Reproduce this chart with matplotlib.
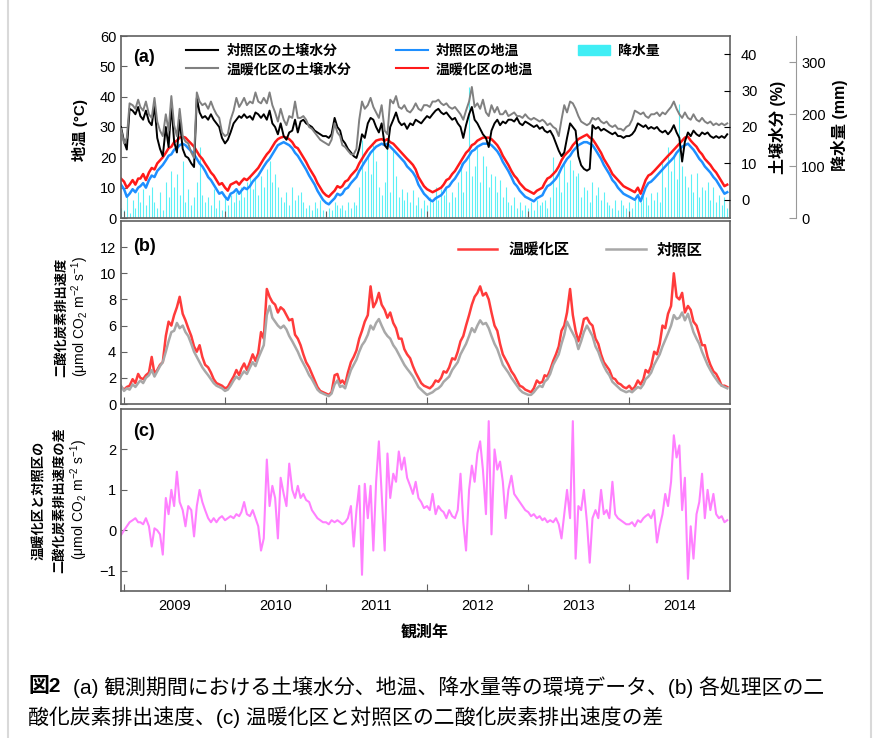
import datetime as dt
import matplotlib
matplotlib.use('Agg')
import matplotlib.pyplot as plt
import matplotlib.dates as mdates
from matplotlib.lines import Line2D
from matplotlib.patches import Patch

plt.rcParams['font.family'] = ['Liberation Sans', 'Noto Sans CJK JP', 'DejaVu Sans']
plt.rcParams['mathtext.fontset'] = 'custom'
plt.rcParams['mathtext.rm'] = 'Liberation Sans'
plt.rcParams['mathtext.default'] = 'regular'

# 観測日 (10日ごと)
dates = [dt.date(2008, 12, 21)] + [dt.date(y, m, d) for y in range(2009, 2015)
                                   for m in range(1, 13) for d in (1, 11, 21)]

# (a) 地温 (°C)
soil_temp_ctrl = [
    11.0,
    9.5, 7.0, 8.0, 9.5, 8.5, 10.0, 10.5, 11.5, 10.0, 12.5, 14.0, 13.5, 15.5, 16.5, 17.5, 19.0, 20.5, 21.0,
    22.5, 23.0, 24.0, 24.5, 24.0, 23.0, 22.0, 21.0, 19.5, 18.0, 17.0, 15.5, 13.5, 12.5, 11.0, 9.5, 8.0, 8.5,
    7.0, 6.0, 8.0, 8.5, 9.5, 8.0, 9.0, 10.0, 9.5, 10.5, 12.0, 13.0, 14.0, 15.5, 17.0, 18.5, 19.5, 21.0,
    22.5, 24.0, 24.5, 25.0, 24.5, 24.0, 23.0, 21.5, 20.5, 19.0, 17.5, 16.0, 14.0, 12.5, 11.0, 9.0, 7.5, 6.0,
    5.0, 4.5, 5.5, 6.5, 8.0, 7.5, 8.0, 9.5, 10.0, 11.5, 12.5, 13.5, 15.5, 17.0, 18.5, 20.0, 21.5, 22.5,
    23.5, 24.0, 24.5, 24.0, 24.5, 23.5, 22.5, 21.5, 20.5, 19.5, 18.5, 17.0, 16.0, 15.0, 13.5, 11.0, 9.5, 8.0,
    7.0, 6.0, 5.5, 6.5, 7.0, 7.5, 8.5, 10.0, 10.5, 12.0, 13.0, 14.5, 16.0, 18.0, 19.0, 20.5, 22.0, 22.5,
    23.5, 24.0, 24.5, 24.5, 24.5, 24.0, 23.0, 22.0, 20.5, 18.5, 17.0, 15.5, 13.5, 11.5, 10.5, 9.0, 8.0, 7.0,
    6.5, 6.0, 5.5, 6.5, 7.0, 7.5, 9.0, 10.5, 11.0, 12.0, 13.0, 14.5, 16.5, 18.0, 19.5, 20.5, 22.0, 23.0,
    24.0, 24.5, 25.0, 25.0, 24.5, 24.0, 22.5, 21.0, 19.5, 17.5, 16.0, 14.5, 12.5, 11.5, 10.0, 9.0, 8.0, 7.5,
    7.0, 6.5, 6.0, 7.5, 5.5, 8.0, 10.0, 11.5, 12.0, 13.0, 14.0, 15.0, 16.0, 17.0, 18.0, 19.0, 20.0, 21.5,
    22.5, 23.5, 24.0, 24.5, 23.5, 22.5, 21.0, 19.5, 18.5, 17.0, 16.0, 15.0, 13.5, 12.5, 11.0, 9.5, 8.0, 8.5,
]
soil_temp_warm = [
    13.0,
    12.0, 10.0, 11.0, 12.5, 11.0, 13.0, 13.0, 14.5, 12.5, 15.0, 16.5, 16.0, 18.0, 19.0, 20.0, 21.5, 23.0, 23.5,
    25.0, 25.5, 26.5, 26.8, 26.5, 25.5, 24.5, 23.5, 22.0, 20.5, 19.5, 18.0, 16.5, 15.0, 14.0, 12.5, 11.0, 11.5,
    10.0, 9.0, 11.0, 11.5, 12.0, 11.0, 12.0, 13.0, 12.5, 13.5, 14.5, 15.5, 16.5, 18.0, 19.5, 21.0, 22.0, 23.5,
    25.0, 26.0, 26.5, 26.8, 26.5, 26.0, 25.0, 23.5, 23.0, 21.5, 20.0, 18.5, 16.5, 15.0, 13.5, 11.5, 10.0, 8.5,
    7.5, 7.0, 8.0, 9.0, 10.5, 10.0, 10.5, 12.0, 12.5, 14.0, 15.0, 16.0, 18.0, 19.5, 21.0, 22.5, 23.5, 24.5,
    25.5, 25.8, 26.0, 25.5, 26.0, 25.0, 24.5, 23.5, 22.5, 21.5, 20.5, 19.5, 18.5, 17.5, 16.0, 13.5, 12.0, 10.5,
    9.5, 9.0, 8.5, 9.0, 9.5, 10.0, 11.0, 12.5, 13.0, 14.5, 15.5, 17.0, 18.5, 20.0, 21.5, 22.5, 24.0, 24.5,
    25.5, 26.0, 26.5, 26.5, 26.5, 26.0, 25.0, 24.0, 22.5, 20.5, 19.0, 17.5, 15.5, 14.0, 13.0, 11.5, 10.5, 9.5,
    9.0, 8.5, 8.0, 9.0, 9.5, 10.0, 11.5, 13.0, 13.5, 14.5, 15.5, 17.0, 19.0, 20.5, 21.5, 22.5, 24.0, 25.0,
    26.0, 26.5, 27.0, 27.5, 26.5, 26.0, 24.5, 23.0, 21.5, 19.5, 18.0, 16.5, 14.5, 13.5, 12.5, 11.5, 10.5, 10.0,
    9.5, 9.0, 8.5, 10.0, 8.0, 10.5, 12.5, 14.0, 14.5, 15.5, 16.5, 17.5, 18.5, 19.5, 20.5, 21.5, 22.5, 23.5,
    24.5, 25.5, 26.5, 26.8, 25.5, 24.5, 23.5, 22.0, 21.0, 19.5, 18.5, 17.5, 16.0, 15.0, 13.5, 12.0, 10.5, 11.0,
]

# (a) 土壌水分 (%)
soil_moist_ctrl = [
    20.0,
    16.0, 13.8, 25.0, 24.5, 23.5, 25.5, 23.0, 22.0, 24.5, 21.5, 20.5, 26.0, 17.0, 14.0, 12.0, 20.0, 14.5, 26.0,
    16.0, 13.0, 22.0, 14.0, 12.0, 11.5, 10.0, 9.0, 28.0, 24.0, 22.5, 23.0, 22.0, 23.5, 22.0, 21.0, 20.0, 17.0,
    15.5, 16.5, 18.5, 21.0, 22.0, 23.0, 22.5, 23.5, 22.5, 23.0, 22.0, 24.0, 23.5, 22.5, 23.5, 22.0, 24.5, 21.0,
    20.0, 18.0, 21.0, 17.5, 16.5, 18.5, 19.0, 22.0, 18.5, 21.5, 22.0, 21.0, 20.5, 20.0, 19.0, 18.5, 18.0, 17.5,
    17.5, 17.0, 18.0, 22.5, 20.0, 19.0, 16.5, 15.5, 14.0, 13.0, 12.0, 11.5, 14.0, 18.0, 17.0, 21.0, 22.5, 22.0,
    20.0, 18.5, 21.0, 15.0, 14.0, 20.0, 22.0, 24.0, 21.5, 20.5, 21.0, 19.5, 21.0, 20.5, 22.0, 21.5, 21.0, 22.0,
    23.0, 22.5, 23.5, 24.5, 25.0, 24.0, 23.5, 24.0, 23.0, 22.0, 22.5, 21.0, 20.0, 17.0, 20.5, 23.5, 25.5, 22.0,
    21.0, 19.5, 18.0, 17.0, 14.5, 19.0, 21.0, 22.0, 20.5, 21.5, 21.0, 22.0, 22.0, 21.5, 22.5, 21.0, 20.5, 21.5,
    21.0, 20.5, 20.0, 20.5, 19.5, 20.0, 19.0, 18.5, 19.0, 17.5, 15.5, 13.5, 12.0, 13.0, 17.0, 21.0, 20.0, 19.0,
    12.0, 9.5, 8.5, 8.0, 8.5, 20.5, 19.5, 20.0, 19.0, 19.5, 19.0, 18.5, 18.0, 18.5, 17.5, 17.5, 17.0, 17.5,
    17.5, 18.0, 19.0, 21.0, 20.5, 20.0, 20.5, 19.5, 20.0, 19.5, 20.0, 19.0, 18.5, 19.0, 18.0, 19.0, 20.5, 18.5,
    17.0, 10.5, 16.0, 18.5, 17.5, 19.0, 18.0, 17.5, 18.5, 18.0, 18.5, 17.5, 17.0, 17.5, 17.0, 17.5, 17.0, 18.0,
]
soil_moist_warm = [
    19.5,
    15.5, 17.0, 26.5, 26.0, 25.0, 27.5, 25.5, 24.5, 27.0, 23.5, 22.5, 28.0, 21.5, 19.0, 17.5, 23.5, 19.0, 28.5,
    20.5, 17.5, 25.0, 17.5, 16.0, 15.5, 13.0, 11.5, 29.5, 27.0, 26.0, 26.5, 25.0, 27.0, 25.0, 23.5, 22.5, 18.5,
    17.5, 18.0, 22.0, 24.5, 28.0, 25.5, 26.5, 28.0, 26.0, 27.0, 26.5, 29.5, 27.0, 26.5, 28.0, 26.5, 29.5, 26.0,
    24.0, 21.5, 25.0, 22.0, 20.5, 23.0, 22.5, 27.0, 22.5, 22.5, 23.0, 22.0, 20.0, 19.5, 18.5, 17.5, 16.5, 16.0,
    15.5, 15.0, 16.5, 21.0, 18.5, 17.5, 15.0, 14.5, 13.5, 12.5, 12.5, 14.0, 22.0, 27.0, 25.0, 26.0, 28.0, 25.5,
    24.0, 22.5, 26.0, 19.0, 18.0, 27.5, 26.5, 28.5, 25.5, 25.0, 26.0, 24.5, 24.0, 25.0, 26.5, 25.0, 24.5, 26.0,
    26.0, 25.5, 27.0, 27.0, 27.5, 26.5, 26.0, 26.5, 25.5, 25.0, 25.5, 24.5, 23.5, 22.0, 24.5, 27.0, 31.0, 25.5,
    26.5, 25.0, 27.5, 24.0, 23.0, 26.0, 24.0, 25.5, 23.5, 23.5, 24.5, 23.0, 23.5, 24.0, 23.0, 23.0, 22.5, 23.5,
    22.5, 22.0, 22.5, 22.0, 21.5, 22.0, 21.5, 20.5, 21.0, 20.0, 19.5, 17.5, 22.0, 26.0, 24.0, 27.0, 26.5, 25.0,
    23.0, 21.5, 21.0, 20.5, 21.0, 22.5, 22.0, 22.5, 21.5, 21.0, 21.5, 20.5, 20.0, 20.5, 19.5, 19.5, 19.0, 20.0,
    20.5, 22.0, 24.5, 24.0, 23.5, 24.0, 23.0, 22.5, 23.5, 23.5, 24.0, 23.0, 24.0, 23.5, 24.5, 25.5, 27.0, 25.0,
    23.5, 22.5, 24.0, 22.5, 22.0, 23.5, 22.0, 21.5, 22.5, 21.5, 21.0, 21.5, 20.5, 21.0, 20.5, 21.0, 20.5, 21.0,
]

# (a) 降水量 (mm)
precip = [
    20,
    15, 40, 10, 35, 20, 50, 30, 55, 25, 45, 60, 30, 20, 50, 15, 70, 40, 90,
    60, 85, 45, 110, 30, 55, 25, 40, 70, 137, 45, 30, 40, 25, 55, 20, 35, 15,
    40, 25, 45, 30, 50, 35, 60, 40, 70, 80, 55, 75, 45, 80, 60, 95, 110, 70,
    85, 60, 40, 30, 50, 25, 60, 35, 45, 50, 30, 20, 25, 15, 30, 20, 35, 15,
    10, 20, 15, 30, 25, 20, 25, 15, 30, 20, 30, 25, 60, 150, 90, 120, 85, 140,
    110, 60, 45, 70, 137, 50, 130, 80, 40, 55, 35, 50, 30, 54, 25, 40, 20, 35,
    25, 40, 30, 60, 35, 55, 45, 60, 30, 50, 40, 70, 106, 50, 90, 252, 80, 100,
    137, 70, 120, 100, 60, 85, 80, 50, 73, 40, 60, 30, 25, 40, 20, 30, 15, 25,
    20, 30, 15, 35, 25, 30, 35, 20, 40, 117, 60, 90, 50, 110, 70, 112, 92, 80,
    86, 40, 60, 54, 30, 70, 45, 60, 35, 50, 30, 25, 20, 35, 15, 35, 25, 20,
    30, 20, 35, 48, 30, 45, 40, 25, 48, 35, 50, 30, 106, 60, 137, 90, 120, 75,
    220, 100, 80, 60, 85, 50, 86, 40, 60, 54, 70, 35, 60, 30, 45, 25, 40, 20,
]

# (b) 二酸化炭素排出速度
co2_warm = [
    1.3,
    1.1, 1.3, 1.4, 1.9, 1.6, 2.3, 2.0, 1.9, 2.2, 2.4, 3.6, 2.3, 2.6, 3.0, 3.2, 5.2, 6.3, 6.0,
    6.8, 7.4, 8.2, 6.9, 6.4, 5.8, 5.2, 4.4, 4.0, 4.5, 3.6, 3.0, 2.8, 2.4, 1.9, 1.6, 1.5, 1.4,
    1.2, 1.3, 1.7, 2.1, 2.6, 2.2, 2.7, 3.1, 2.6, 3.2, 3.8, 3.3, 3.9, 5.5, 5.0, 8.8, 8.2, 7.8,
    7.6, 7.0, 7.4, 7.2, 6.8, 6.4, 6.5, 5.3, 5.0, 4.5, 3.8, 3.2, 2.8, 2.3, 1.8, 1.3, 1.0, 0.9,
    0.8, 0.7, 0.9, 2.2, 2.3, 1.6, 1.8, 1.5, 2.4, 3.2, 3.6, 4.1, 5.0, 5.6, 6.3, 6.8, 9.0, 7.4,
    7.8, 8.5, 7.6, 7.2, 6.6, 7.0, 6.2, 5.8, 5.0, 5.0, 4.2, 3.8, 3.5, 2.9, 2.4, 2.0, 1.6, 1.4,
    1.3, 1.2, 1.4, 1.8, 1.7, 2.0, 2.5, 2.4, 2.8, 3.5, 3.4, 4.0, 4.8, 5.2, 6.0, 6.8, 7.6, 8.2,
    8.5, 9.0, 8.3, 8.5, 8.0, 7.0, 6.0, 5.6, 4.6, 3.8, 3.4, 3.0, 2.5, 2.2, 1.8, 1.4, 1.3, 1.1,
    1.0, 0.9, 1.2, 1.8, 1.6, 1.7, 2.2, 2.1, 2.6, 3.3, 3.8, 4.4, 5.6, 6.0, 7.0, 8.8, 6.8, 5.6,
    4.8, 5.5, 6.5, 6.6, 6.2, 6.0, 5.0, 4.6, 3.8, 3.2, 2.9, 2.6, 2.0, 1.9, 1.6, 1.5, 1.3, 1.2,
    1.4, 1.1, 1.3, 1.8, 1.5, 1.9, 2.6, 2.4, 2.9, 4.0, 3.8, 4.6, 6.0, 5.8, 6.9, 7.5, 10.0, 8.2,
    8.0, 8.5, 7.0, 7.5, 7.2, 6.3, 6.0, 5.3, 4.5, 4.5, 3.6, 3.0, 2.5, 2.3, 1.9, 1.4, 1.4, 1.3,
]
co2_ctrl = [
    1.4,
    1.0, 1.2, 1.1, 1.5, 1.3, 1.6, 1.8, 1.6, 2.0, 2.2, 2.6, 2.1, 2.5, 2.9, 3.2, 4.0, 4.8, 5.5,
    5.6, 6.2, 5.8, 6.0, 5.5, 5.2, 4.6, 4.0, 3.6, 3.2, 2.8, 2.5, 2.2, 1.9, 1.6, 1.4, 1.3, 1.2,
    1.0, 1.1, 1.4, 1.8, 2.1, 1.9, 2.2, 2.5, 2.3, 2.8, 3.2, 2.9, 3.5, 4.0, 4.5, 6.8, 7.5, 6.6,
    6.3, 6.0, 5.8, 6.0, 5.7, 5.2, 4.8, 4.4, 4.0, 3.5, 3.1, 2.7, 2.2, 1.9, 1.5, 1.1, 0.9, 0.8,
    0.7, 0.6, 0.8, 1.5, 1.8, 1.3, 1.4, 1.2, 1.9, 2.6, 3.0, 3.4, 4.0, 4.5, 4.8, 5.3, 6.0, 5.7,
    6.2, 6.5, 6.0, 5.5, 5.2, 5.0, 4.5, 4.2, 3.8, 3.4, 3.0, 2.7, 2.4, 2.1, 1.7, 1.3, 1.1, 0.9,
    0.7, 0.8, 0.9, 1.1, 1.2, 1.4, 1.7, 1.9, 2.1, 2.6, 2.9, 3.2, 3.8, 4.2, 4.6, 5.2, 5.8, 5.5,
    6.0, 6.4, 6.1, 6.2, 5.8, 5.2, 4.6, 4.2, 3.6, 3.0, 2.7, 2.4, 2.0, 1.7, 1.4, 1.1, 0.9, 0.8,
    0.7, 0.7, 0.9, 1.2, 1.4, 1.3, 1.7, 1.9, 2.3, 3.0, 3.4, 3.8, 4.6, 5.3, 6.3, 5.8, 5.4, 5.0,
    4.2, 4.8, 5.5, 6.0, 5.6, 5.2, 4.4, 4.0, 3.4, 2.9, 2.5, 2.2, 1.7, 1.5, 1.3, 1.1, 1.0, 0.9,
    1.0, 0.9, 1.1, 1.3, 1.2, 1.5, 1.9, 2.1, 2.4, 3.0, 3.4, 3.8, 4.4, 4.9, 5.4, 6.0, 6.8, 6.5,
    6.6, 7.0, 6.4, 6.9, 6.2, 5.5, 5.0, 4.6, 4.0, 3.5, 3.0, 2.6, 2.2, 1.9, 1.6, 1.4, 1.3, 1.2,
]

# (c) 温暖化区と対照区の差
co2_diff = [
    -0.12,
    0.0, 0.1, 0.2, 0.25, 0.3, 0.2, 0.2, 0.15, 0.3, 0.1, -0.4, 0.05, 0.0, -0.1, -0.6, 0.8, 0.4, 1.0,
    0.6, 1.45, 0.7, 0.5, 0.1, 0.6, 0.5, -0.15, 0.6, 1.0, 0.7, 0.5, 0.3, 0.2, 0.3, 0.2, 0.3, 0.35,
    0.25, 0.3, 0.35, 0.3, 0.4, 0.35, 0.45, 0.7, 0.4, 0.35, 0.5, 0.3, 0.1, -0.5, -0.2, 1.75, 0.6, 1.1,
    0.8, -0.2, 1.3, 0.9, 0.6, 1.65, 1.0, 0.8, 1.1, 0.8, 0.9, 0.75, 0.7, 0.5, 0.4, 0.3, 0.25, 0.2,
    0.2, 0.15, 0.25, 0.2, 0.25, 0.2, 0.15, 0.2, 0.3, 0.6, -0.4, 0.5, 1.1, -1.1, 1.15, 0.3, 1.1, -0.5,
    1.2, 2.2, 0.9, -0.5, 1.9, 0.8, 1.4, 1.2, 1.95, 1.5, 1.8, 1.3, 1.1, 0.9, 1.2, 0.8, 0.7, 0.55,
    0.6, 0.5, 0.9, 0.4, 0.6, 0.5, 0.45, 0.3, 0.5, 0.35, 0.3, 0.5, 1.4, 0.2, -0.5, 1.0, 1.6, 1.2,
    1.9, 2.2, 1.5, 0.4, 2.7, -0.1, 2.0, 1.5, 1.7, 1.2, 0.3, 1.0, 1.35, 0.9, 0.8, 0.7, 0.6, 0.5,
    0.45, 0.35, 0.4, 0.3, 0.35, 0.25, 0.3, 0.2, 0.25, 0.2, 0.3, 0.15, -0.2, 0.4, 1.0, 0.3, 2.7, -0.7,
    0.6, 0.5, 1.0, 0.2, -0.8, 0.3, 0.5, 0.3, 1.0, 0.4, 0.5, 0.3, 1.2, 0.4, 0.3, 0.25, 0.2, 0.15,
    0.15, 0.2, 0.1, 0.25, 0.2, 0.3, 0.35, 0.4, 0.3, 0.5, -0.3, 0.1, 0.4, 0.9, 0.6, 1.2, 2.35, 1.8,
    2.1, 0.5, 1.3, -1.2, 0.1, -0.7, 0.4, 0.7, 1.4, 0.3, 1.0, 0.5, 0.9, 0.4, 0.3, 0.35, 0.2, 0.25,
]

spine_c = '#606060'
tick_fs = 10.5


def fy(px):
    return 1 - px / 738


fig = plt.figure(figsize=(8.75, 7.38), dpi=100)
L, W = 121 / 875, 609 / 875
ax_a = fig.add_axes([L, fy(218), W, 182 / 738])
ax_b = fig.add_axes([L, fy(404), W, 183 / 738], sharex=ax_a)
ax_c = fig.add_axes([L, fy(591), W, 182 / 738], sharex=ax_a)

# 外枠
fig.add_artist(Line2D([8 / 875, 8 / 875], [0, 1], color='#d9d9d9', lw=1.5))
fig.add_artist(Line2D([871 / 875, 871 / 875], [0, 1], color='#d9d9d9', lw=1.5))

# ---- (a) ----
ax_p = ax_a.twinx()
ax_s = ax_a.twinx()
ax_p.set_zorder(1)
ax_a.set_zorder(2)
ax_s.set_zorder(3)
ax_a.patch.set_visible(False)

ax_p.vlines(dates, 0, precip, color='#40eef5', lw=0.8, alpha=0.85)
ax_p.set_ylim(0, 350)
ax_p.set_yticks([0, 100, 200, 300])
ax_p.spines['right'].set_position(('axes', 1.108))
for s in ['left', 'top', 'bottom']:
    ax_p.spines[s].set_visible(False)
ax_p.spines['right'].set_color('#999999')
ax_p.tick_params(axis='y', direction='in', length=5, labelsize=tick_fs, color='#999999', pad=4)

ax_a.plot(dates, soil_temp_ctrl, color='#1e8fff', lw=1.8)
ax_a.plot(dates, soil_temp_warm, color='#ff1a1a', lw=1.8)
ax_a.set_ylim(0, 60)
ax_a.set_yticks(range(0, 61, 10))

ax_s.plot(dates, soil_moist_ctrl, color='black', lw=1.4)
ax_s.plot(dates, soil_moist_warm, color='#808080', lw=1.4)
ax_s.set_ylim(-5, 45)
ax_s.set_yticks(range(0, 41, 10))
ax_s.tick_params(axis='y', direction='in', length=4, labelsize=tick_fs, pad=8)
for s in ax_s.spines.values():
    s.set_visible(False)

handles = [
    Line2D([], [], color='black', lw=1.5),
    Line2D([], [], color='#808080', lw=1.5),
    Line2D([], [], color='#1e8fff', lw=1.5),
    Line2D([], [], color='#ff1a1a', lw=1.5),
    Patch(color='#40eef5'),
]
labels = ['対照区の土壌水分', '温暖化区の土壌水分', '対照区の地温', '温暖化区の地温', '降水量']
ax_s.legend(handles, labels, ncol=3, loc='upper left', bbox_to_anchor=(0.107, 0.955),
            frameon=False, borderpad=0, borderaxespad=0, handlelength=2.3,
            handletextpad=0.6, columnspacing=3.2, labelspacing=0.3,
            prop={'size': 10, 'weight': 'bold'})

# ---- (b) ----
ax_b.plot(dates, co2_warm, color='#ff3b3b', lw=1.8, label='温暖化区')
ax_b.plot(dates, co2_ctrl, color='#a8a8a8', lw=1.8, label='対照区')
ax_b.set_ylim(0, 14)
ax_b.set_yticks(range(0, 13, 2))
ax_b.legend(ncol=2, loc='upper left', bbox_to_anchor=(0.553, 0.885), frameon=False,
            borderpad=0, borderaxespad=0, handlelength=2.6, handletextpad=0.7,
            columnspacing=2.4, prop={'size': 11, 'weight': 'bold'})

# ---- (c) ----
ax_c.plot(dates, co2_diff, color='#ff80ff', lw=1.5)
ax_c.set_ylim(-1.5, 3)
ax_c.set_yticks([-1, 0, 1, 2])

# 共通の軸設定
for ax, lab, yl in [(ax_a, '(a)', 0.88), (ax_b, '(b)', 0.863), (ax_c, '(c)', 0.874)]:
    for s in ax.spines.values():
        s.set_color(spine_c)
        s.set_linewidth(1.2)
    ax.tick_params(axis='y', direction='in', length=4, labelsize=tick_fs, color=spine_c)
    ax.tick_params(axis='x', which='major', direction='in', length=5, color=spine_c, labelbottom=False)
    ax.tick_params(axis='x', which='minor', length=0, labelsize=tick_fs, labelbottom=False)
    ax.text(0.02, yl, lab, transform=ax.transAxes, fontsize=13, fontweight='bold', va='center')

ax_a.set_xlim(dt.date(2008, 12, 21), dt.date(2014, 12, 31))
ax_a.xaxis.set_major_locator(mdates.YearLocator())
ax_a.xaxis.set_minor_locator(mdates.MonthLocator(bymonth=7, bymonthday=2))
ax_a.xaxis.set_minor_formatter(mdates.DateFormatter('%Y'))
ax_c.tick_params(axis='x', which='minor', labelbottom=True, pad=6)

# 軸ラベル
fig.text(80 / 875, fy(130), '地温 (°C)', rotation=90, ha='center', va='center',
         fontsize=11, fontweight='bold')
fig.text(777 / 875, fy(127), '土壌水分 (%)', rotation=90, ha='center', va='center',
         fontsize=11.5, fontweight='bold')
fig.text(840 / 875, fy(125), '降水量 (mm)', rotation=90, ha='center', va='center',
         fontsize=11.5, fontweight='bold')

unit = '(μmol CO$_2$ m$^{-2}$ s$^{-1}$)'
fig.text(62 / 875, fy(317), '二酸化炭素排出速度', rotation=90, ha='center', va='center',
         fontsize=9.5, fontweight='bold')
fig.text(80 / 875, fy(317), unit, rotation=90, ha='center', va='center', fontsize=10)
fig.text(40 / 875, fy(500), '温暖化区と対照区の', rotation=90, ha='center', va='center',
         fontsize=9.5, fontweight='bold')
fig.text(60 / 875, fy(500), '二酸化炭素排出速度の差', rotation=90, ha='center', va='center',
         fontsize=9.5, fontweight='bold')
fig.text(79 / 875, fy(500), unit, rotation=90, ha='center', va='center', fontsize=10)

fig.text(425 / 875, fy(632), '観測年', ha='center', va='center', fontsize=11.5, fontweight='bold')

# キャプション
fig.text(28 / 875, fy(687), '図2', ha='left', va='center', fontsize=15, fontweight='bold')
fig.text(73 / 875, fy(687), '(a) 観測期間における土壌水分、地温、降水量等の環境データ、(b) 各処理区の二',
         ha='left', va='center', fontsize=15)
fig.text(28 / 875, fy(717), '酸化炭素排出速度、(c) 温暖化区と対照区の二酸化炭素排出速度の差',
         ha='left', va='center', fontsize=15)

fig.savefig('out.png', dpi=100)
